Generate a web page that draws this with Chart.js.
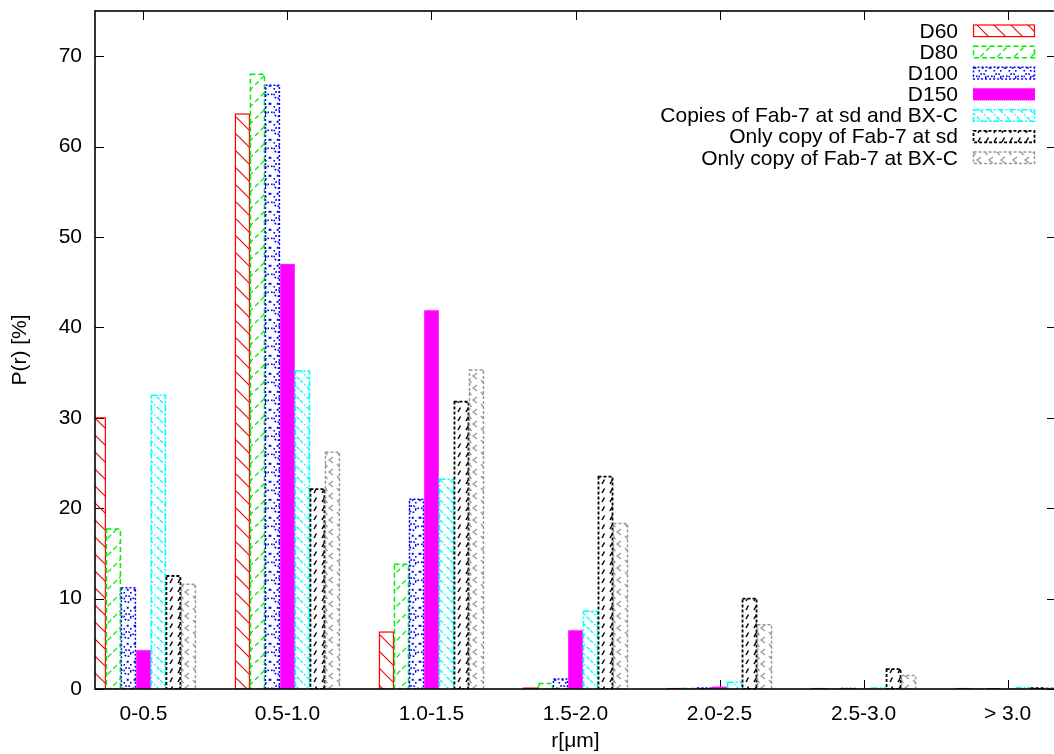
<!DOCTYPE html>
<html><head><meta charset="utf-8">
<script src="https://cdn.jsdelivr.net/npm/chart.js@4.4.0/dist/chart.umd.min.js"></script>
<style>html,body{margin:0;padding:0;overflow:hidden;background:#fff}
#wrap{width:1056px;height:754px;position:relative}</style>
</head><body><div id="wrap"><canvas id="c"></canvas></div>
<script>
const categories = ['0-0.5','0.5-1.0','1.0-1.5','1.5-2.0','2.0-2.5','2.5-3.0','> 3.0'];
const seriesNames = ['D60','D80','D100','D150','Copies of Fab-7 at sd and BX-C','Only copy of Fab-7 at sd','Only copy of Fab-7 at BX-C'];
const d60        = [30.0, 63.6,  6.3,  0.1, 0.05, 0.05, 0.05];
const d80        = [17.7, 68.0, 13.8,  0.6, 0.05, 0.0,  0.0];
const d100       = [11.2, 66.8, 21.0,  1.1, 0.1,  0.05, 0.0];
const d150       = [ 4.3, 47.0, 41.9,  6.5, 0.25, 0.05, 0.0];
const copiesBoth = [32.5, 35.2, 23.2,  8.6, 0.75, 0.1,  0.15];
const onlySd     = [12.5, 22.1, 31.8, 23.5, 10.0, 2.2,  0.1];
const onlyBxc    = [11.6, 26.2, 35.3, 18.3,  7.1, 1.5,  0.1];
const yTicks = [0,10,20,30,40,50,60,70];
const allSeries = [d60, d80, d100, d150, copiesBoth, onlySd, onlyBxc];

const FONT = '"Liberation Sans", Arial, sans-serif';

function makePattern(w, h, draw) {
  const c = document.createElement('canvas');
  c.width = w; c.height = h;
  const g = c.getContext('2d');
  draw(g, w, h);
  return g.createPattern(c, 'repeat');
}
const fills = [
  makePattern(17,17,(g,w,h)=>{ g.strokeStyle='#ff0000'; g.lineWidth=1.2; g.beginPath();
    g.moveTo(-2,-2); g.lineTo(w+2,h+2); g.moveTo(-3,h-3); g.lineTo(3,h+3); g.moveTo(w-3,-3); g.lineTo(w+3,3); g.stroke(); }),
  makePattern(17,17,(g,w,h)=>{ g.strokeStyle='#00ee00'; g.lineWidth=1.3; g.setLineDash([5,3]); g.beginPath();
    g.moveTo(0,h); g.lineTo(w,0); g.stroke(); }),
  makePattern(15,18,(g,w,h)=>{ g.strokeStyle='#0000ff'; g.fillStyle='#0000ff'; g.lineWidth=1.5; g.setLineDash([1.8,1.4]);
    g.beginPath(); g.arc(7.5,5,3.3,0,Math.PI*2); g.stroke();
    g.fillRect(6.7,12.8,2,2); g.fillRect(0,12.8,1.4,2); g.fillRect(13.6,12.8,1.4,2);
    g.fillRect(1,3.5,1.6,1.6); g.fillRect(12.4,3.5,1.6,1.6); g.fillRect(3.5,16,1.6,1.6); g.fillRect(10,16,1.6,1.6); }),
  '#ff00ff',
  makePattern(10,10,(g,w,h)=>{ g.strokeStyle='#00ffff'; g.lineWidth=1.4; g.setLineDash([4,2,1.5,2]); g.beginPath();
    g.moveTo(0,0); g.lineTo(w,h); g.stroke(); }),
  makePattern(8,9,(g,w,h)=>{ g.strokeStyle='#000000'; g.lineWidth=1.5; g.beginPath();
    g.moveTo(2,7); g.lineTo(4.5,2.5); g.stroke(); }),
  makePattern(12,12,(g,w,h)=>{ g.strokeStyle='#999999'; g.lineWidth=1.3; g.beginPath();
    g.moveTo(9,1); g.lineTo(5,4); g.lineTo(9,7); g.moveTo(1,8); g.lineTo(3.5,11); g.stroke(); }),
];
const borders = [
  {color:'#ff0000', dash:[], w:1.2},
  {color:'#00ee00', dash:[5,3], w:1.5},
  {color:'#0000ff', dash:[2,2], w:1.5},
  {color:'#ff66ff', dash:[1,1], w:1},
  {color:'#00ffff', dash:[6,2,2,2], w:1.6},
  {color:'#000000', dash:[3,2], w:1.8},
  {color:'#999999', dash:[3,2], w:1.5},
];

const datasets = allSeries.map((vals, k) => ({
  label: seriesNames[k],
  data: vals.map((v, i) => ({x: i, y: v})),
  backgroundColor: fills[k],
  borderWidth: 0,
  categoryPercentage: 105/144,
  barPercentage: 1.0,
}));

const framePlugin = {
  id: 'frame',
  beforeDatasetsDraw(chart) {
    const {ctx, chartArea: a, scales: {x, y}} = chart;
    ctx.save();
    ctx.strokeStyle = '#000'; ctx.lineWidth = 1;
    ctx.beginPath();
    yTicks.forEach(v => { const py = Math.round(y.getPixelForValue(v)) + 0.5;
      ctx.moveTo(a.left, py); ctx.lineTo(a.left + 9, py);
      ctx.moveTo(a.right, py); ctx.lineTo(a.right - 9, py); });
    categories.forEach((c, i) => { const px = Math.round(x.getPixelForValue(i)) + 0.5;
      ctx.moveTo(px, a.bottom); ctx.lineTo(px, a.bottom - 9);
      ctx.moveTo(px, a.top); ctx.lineTo(px, a.top + 9); });
    ctx.stroke();
    ctx.restore();
  },
  afterDatasetsDraw(chart) {
    const {ctx, chartArea: a} = chart;
    ctx.save();
    ctx.beginPath(); ctx.rect(a.left, a.top, a.right - a.left, a.bottom - a.top); ctx.clip();
    chart.data.datasets.forEach((ds, k) => {
      const meta = chart.getDatasetMeta(k);
      const b = borders[k];
      ctx.strokeStyle = b.color; ctx.lineWidth = b.w; ctx.setLineDash(b.dash);
      meta.data.forEach(el => {
        const p = el.getProps(['x','y','base','width'], true);
        const top = Math.min(p.y, p.base), bot = Math.max(p.y, p.base);
        ctx.strokeRect(p.x - p.width/2 + 0.5, top, p.width - 1, bot - top);
      });
    });
    ctx.restore();
    ctx.save();
    ctx.strokeStyle = '#000'; ctx.lineWidth = 1.6;
    ctx.strokeRect(a.left, a.top, a.right - a.left, a.bottom - a.top);
    ctx.restore();
  },
  afterDraw(chart) {
    const {ctx} = chart;
    ctx.save();
    ctx.font = '21px ' + FONT;
    ctx.textAlign = 'right'; ctx.textBaseline = 'middle';
    chart.data.datasets.forEach((ds, k) => {
      const cy = 30.8 + 21.17 * k;
      ctx.fillStyle = '#000';
      ctx.fillText(ds.label, 958, cy + 1);
      ctx.fillStyle = ds.backgroundColor;
      ctx.fillRect(973, cy - 5.8, 62, 11.6);
      const b = borders[k];
      ctx.strokeStyle = b.color === '#ff66ff' ? '#ff00ff' : b.color; ctx.lineWidth = b.w; ctx.setLineDash(b.dash);
      ctx.strokeRect(973.5, cy - 5.8, 61, 11.6);
    });
    ctx.restore();
  }
};

new Chart(document.getElementById('c'), {
  type: 'bar',
  data: { datasets },
  options: {
    responsive: true, maintainAspectRatio: false, animation: false,
    layout: { padding: { top: 11, right: 0, bottom: 0, left: 0 } },
    plugins: { legend: { display: false }, tooltip: { enabled: false } },
    scales: {
      x: {
        type: 'linear', offset: false, min: -0.336, max: 6.336,
        afterBuildTicks: s => { s.ticks = categories.map((c, i) => ({value: i})); },
        afterFit: s => { s.height = 65; s.paddingLeft = 0; s.paddingRight = 0; s.paddingTop = 0; s.paddingBottom = 0; },
        grid: { display: false, drawTicks: false },
        border: { display: false },
        ticks: { padding: 12.4, color: '#000', font: { size: 21, family: FONT },
          callback: v => categories[v], maxRotation: 0, autoSkip: false },
        title: { display: true, text: 'r[μm]', color: '#000', font: { size: 21, family: FONT }, padding: { top: 0, bottom: 0 } }
      },
      y: {
        min: 0, max: 75,
        afterBuildTicks: s => { s.ticks = yTicks.map(v => ({value: v})); },
        afterFit: s => { s.width = 95; s.paddingTop = 0; s.paddingBottom = 0; s.paddingLeft = 0; s.paddingRight = 0; },
        grid: { display: false, drawTicks: false },
        border: { display: false },
        ticks: { padding: 13, color: '#000', font: { size: 21, family: FONT } },
        title: { display: true, text: 'P(r) [%]', color: '#000', font: { size: 21, family: FONT }, padding: { top: 8, bottom: 0 } }
      }
    }
  },
  plugins: [framePlugin]
});
</script>
</body></html>
